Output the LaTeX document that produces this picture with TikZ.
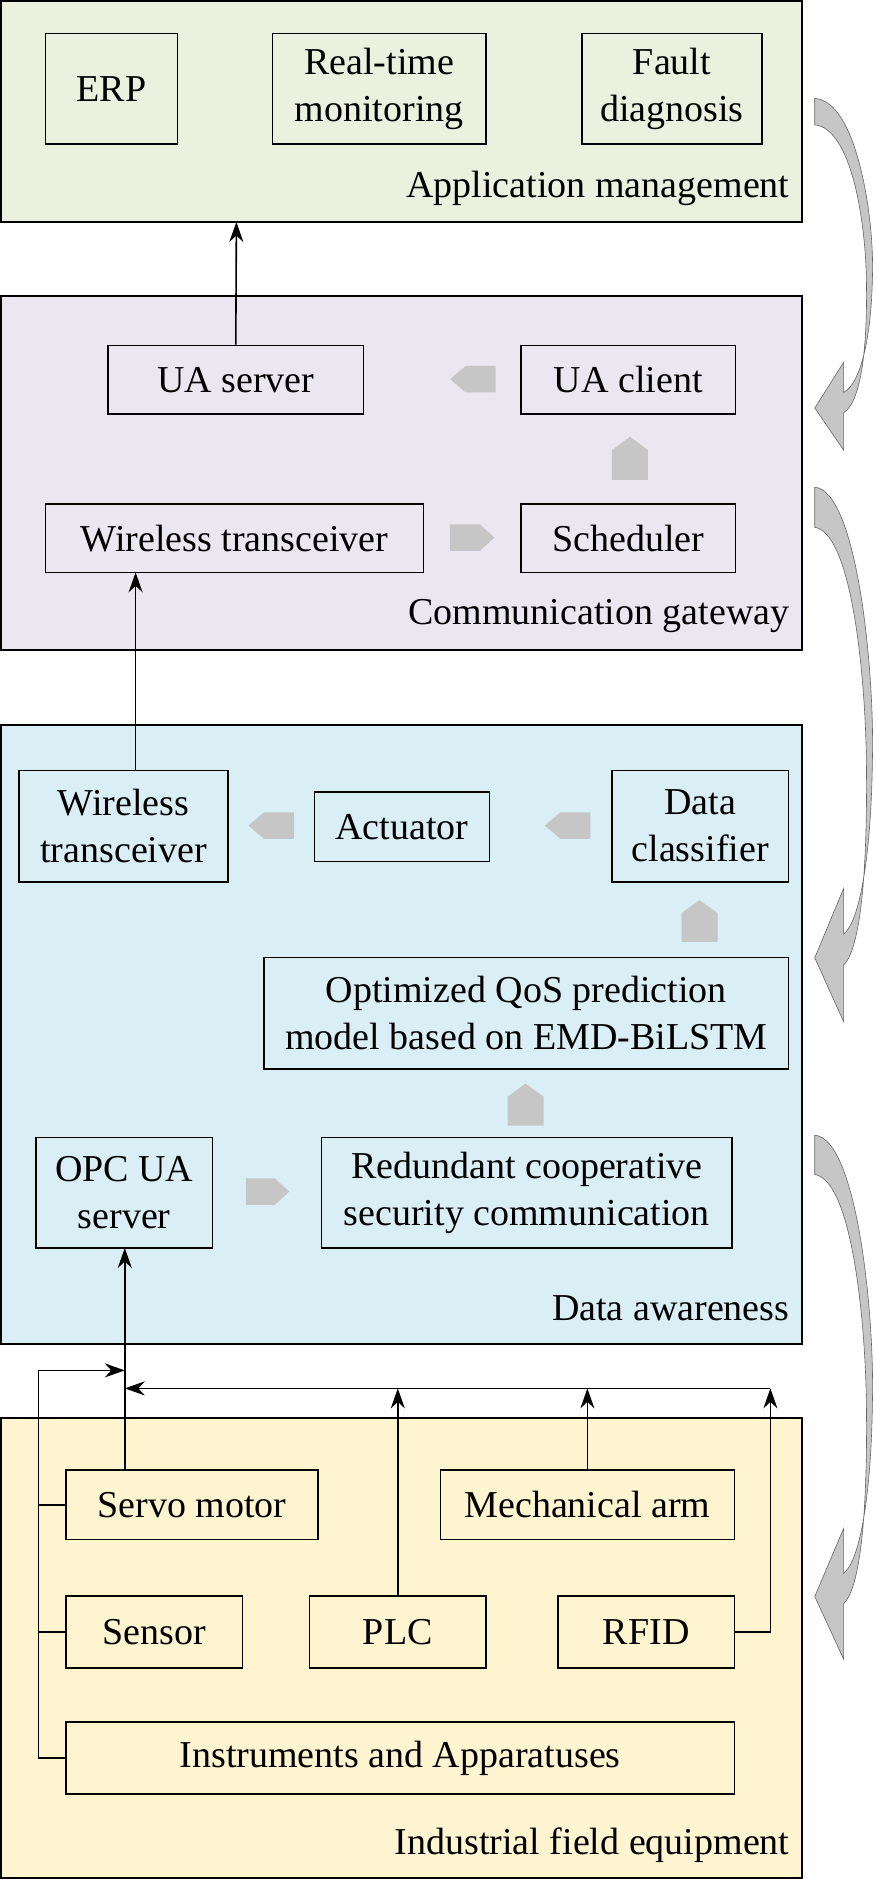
\documentclass[tikz,border=0pt]{standalone}
\usepackage{fontspec}
\setmainfont{Liberation Serif}
\usetikzlibrary{arrows.meta}
\definecolor{gA}{HTML}{EBF0DF}
\definecolor{pB}{HTML}{EBE7F1}
\definecolor{bC}{HTML}{DAEEF5}
\definecolor{yD}{HTML}{FEF4CF}
\definecolor{gr}{HTML}{C6C6C6}
\newcommand\mybx[6]{\node[box,minimum width={(#4-#3)*1.2pt},minimum height={(#6-#5)*1.2pt}] (#1) at ({(#3+#4)/2},{(#5+#6)/2}) {#2};}
\newcommand\curv[3]{\begin{scope}[shift={(#1,#2)},yscale=#3]
\fill[gr,draw=black!60,line width=0.6pt] (0,0) .. controls (35,2) and (50,100) .. (48,150) .. controls (47,200) and (38,238) .. (24,245) -- (24,220) -- (0,258) -- (24,293) -- (24,262) .. controls (40,252) and (44,200) .. (43,150) .. controls (42,100) and (30,25) .. (0,22) -- cycle;
\end{scope}}
\begin{document}
\begin{tikzpicture}[x=1.2pt,y=-1.2pt,
 box/.style={draw,line width=1.7pt,align=center,inner sep=0pt,font=\fontsize{38}{47}\selectfont},
 layer/.style={draw,line width=1.9pt},
 lbl/.style={anchor=east,font=\fontsize{38}{44}\selectfont,inner sep=0pt},
 ln/.style={line width=1.6pt},
 ar/.style={line width=1.6pt,-{Stealth[length=20pt,width=14pt]}},
 pr/.style={fill=gr}]
\useasboundingbox (0,0) rectangle (729.2,1566.7);
% layers
\draw[layer,fill=gA] (1,1) rectangle (668,185);
\draw[layer,fill=pB] (1,247) rectangle (668,542);
\draw[layer,fill=bC] (1,604) rectangle (668,1120);
\draw[layer,fill=yD] (1,1182) rectangle (668,1565);
\node[lbl] (l1) at (658,157) {Application management};
\node[lbl] (l2) at (658,513) {Communication gateway};
\node[lbl] (l3) at (658,1090) {Data awareness};
\node[lbl] (l4) at (658,1538) {Industrial field equipment};
% layer 1
\mybx{erp}{ERP}{38}{148}{28}{120}
\mybx{rtm}{Real-time\\monitoring}{227}{405}{28}{120}
\mybx{fd}{Fault\\diagnosis}{485}{635}{28}{120}
% layer 2
\mybx{uas}{UA server}{90}{303}{288}{345}
\mybx{uac}{UA client}{434}{613}{288}{345}
\mybx{wt1}{Wireless transceiver}{38}{353}{420}{477}
\mybx{sch}{Scheduler}{434}{613}{420}{477}
% layer 3
\mybx{wt2}{Wireless\\transceiver}{16}{190}{642}{735}
\mybx{act}{Actuator}{262}{408}{660}{718}
\mybx{dc}{Data\\classifier}{510}{657}{642}{735}
\mybx{qos}{Optimized QoS prediction\\model based on EMD-BiLSTM}{220}{657}{798}{891}
\mybx{opc}{OPC UA\\server}{30}{177}{948}{1040}
\mybx{red}{Redundant cooperative\\security communication}{268}{610}{948}{1040}
% layer 4
\mybx{servo}{Servo motor}{55}{265}{1225}{1283}
\mybx{mech}{Mechanical arm}{367}{612}{1225}{1283}
\mybx{sens}{Sensor}{55}{202}{1330}{1390}
\mybx{plc}{PLC}{258}{405}{1330}{1390}
\mybx{rfid}{RFID}{465}{612}{1330}{1390}
\mybx{inst}{Instruments and Apparatuses}{55}{612}{1435}{1495}
% gray block arrows
\fill[pr] (413,305) -- (388,305) -- (375,316) -- (388,327) -- (413,327) -- cycle;
\fill[pr] (245,677) -- (220,677) -- (207,688) -- (220,699) -- (245,699) -- cycle;
\fill[pr] (492,677) -- (467,677) -- (454,688) -- (467,699) -- (492,699) -- cycle;
\fill[pr] (375,437) -- (400,437) -- (412,448) -- (400,459) -- (375,459) -- cycle;
\fill[pr] (205,982) -- (229,982) -- (241,993) -- (229,1004) -- (205,1004) -- cycle;
\fill[pr] (510,400) -- (510,375) -- (525,364) -- (540,375) -- (540,400) -- cycle;
\fill[pr] (568,785) -- (568,761) -- (583,750) -- (598,761) -- (598,785) -- cycle;
\fill[pr] (423,938) -- (423,914) -- (438,903) -- (453,914) -- (453,938) -- cycle;
% curved arrows
\curv{679}{82}{1}
\curv{679}{406}{1.52}
\curv{679}{946}{1.49}
% connectors
\coordinate (t1) at (197,185);
\draw[ar] (uas.north) -- (t1);
\coordinate (w2t) at (113,642);
\coordinate (w1b) at (113,477);
\draw[ar] (w2t) -- (w1b);
\coordinate (sv) at (104,1225);
\coordinate (ob) at (104,1040);
\draw[ar] (sv) -- (ob);
\coordinate (bl) at (32,1142);
\coordinate (bm) at (104,1142);
\coordinate (bb) at (32,1465);
\draw[ln] (bb) -- (bl);
\draw[ar] (bl) -- (bm);
\draw[ln] (32,1254) -- (servo.west);
\draw[ln] (32,1360) -- (sens.west);
\draw[ln] (32,1465) -- (inst.west);
\coordinate (br) at (642,1157);
\coordinate (bv) at (104,1157);
\draw[ar] (br) -- (bv);
\draw[ar] (plc.north) -- (plc.north |- br);
\draw[ar] (mech.north) -- (mech.north |- br);
\draw[ar] (rfid.east) -| (br);
\end{tikzpicture}
\end{document}
